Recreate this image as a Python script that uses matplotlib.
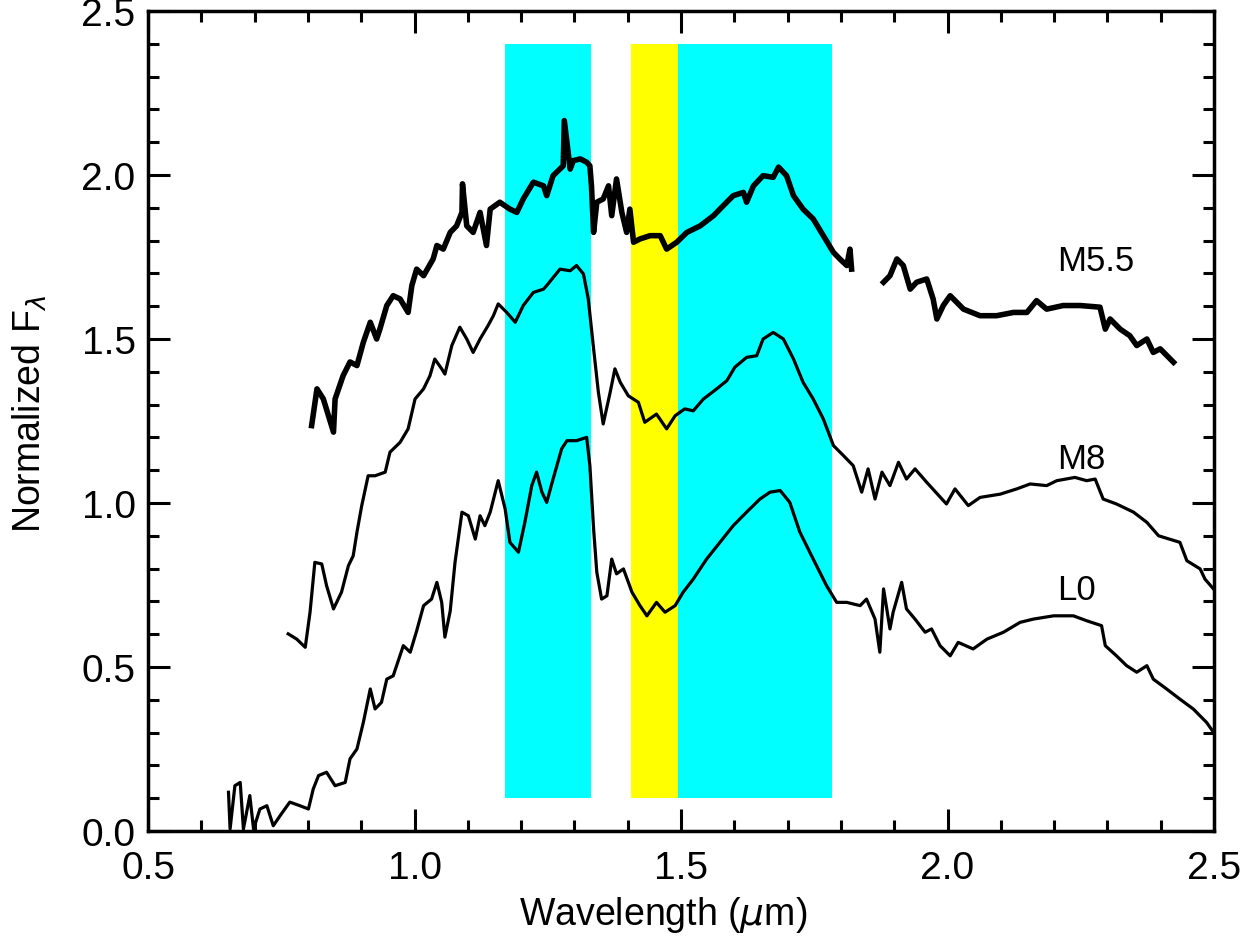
"""Normalized near-IR spectra (M5.5, M8, L0) with the filter bands shaded."""

import numpy as np
import matplotlib
matplotlib.use("Agg")
import matplotlib.pyplot as plt
from matplotlib.ticker import MultipleLocator, FormatStrFormatter

plt.rcParams["font.family"] = ["Liberation Sans", "DejaVu Sans"]
plt.rcParams["mathtext.fontset"] = "dejavusans"

# --- data (wavelength in micron, normalized flux) ---
m55_wave = [0.807, 0.817, 0.829, 0.848, 0.851, 0.866, 0.879, 0.892, 0.904, 0.917,
            0.929, 0.935, 0.948, 0.960, 0.973, 0.988, 0.995, 1.004, 1.017, 1.035,
            1.042, 1.054, 1.067, 1.079, 1.089, 1.090, 1.098, 1.110, 1.123, 1.135,
            1.142, 1.160, 1.179, 1.192, 1.204, 1.223, 1.242, 1.248, 1.260, 1.279,
            1.281, 1.292, 1.298, 1.311, 1.323, 1.329, 1.332, 1.336, 1.342, 1.354,
            1.364, 1.370, 1.379, 1.389, 1.398, 1.404, 1.411, 1.423, 1.442, 1.461,
            1.473, 1.492, 1.511, 1.536, 1.561, 1.579, 1.598, 1.617, 1.623, 1.636,
            1.654, 1.673, 1.683, 1.698, 1.711, 1.729, 1.748, 1.767, 1.786, 1.798,
            1.811, 1.817, 1.820,
            np.nan,
            1.880, 1.892, 1.905, 1.917, 1.930, 1.942, 1.961, 1.973, 1.980, 1.992,
            2.005, 2.030, 2.061, 2.092, 2.124, 2.149, 2.167, 2.186, 2.217, 2.249,
            2.286, 2.296, 2.305, 2.324, 2.342, 2.355, 2.374, 2.386, 2.399, 2.424]
m55_flux = [1.236, 1.348, 1.317, 1.216, 1.317, 1.388, 1.430, 1.419, 1.490, 1.551,
            1.500, 1.530, 1.602, 1.632, 1.622, 1.581, 1.663, 1.713, 1.693, 1.744,
            1.785, 1.774, 1.825, 1.845, 1.886, 1.973, 1.845, 1.825, 1.886, 1.785,
            1.896, 1.917, 1.896, 1.886, 1.927, 1.978, 1.967, 1.937, 1.998, 2.028,
            2.166, 2.018, 2.044, 2.049, 2.039, 2.028, 1.967, 1.825, 1.917, 1.927,
            1.967, 1.876, 1.988, 1.886, 1.825, 1.896, 1.795, 1.805, 1.815, 1.815,
            1.774, 1.795, 1.825, 1.845, 1.876, 1.906, 1.937, 1.947, 1.917, 1.967,
            1.998, 1.993, 2.024, 1.998, 1.937, 1.896, 1.866, 1.815, 1.764, 1.744,
            1.724, 1.774, 1.713,
            np.nan,
            1.673, 1.693, 1.744, 1.724, 1.652, 1.673, 1.683, 1.622, 1.561, 1.602,
            1.632, 1.591, 1.571, 1.571, 1.581, 1.581, 1.617, 1.591, 1.602, 1.602,
            1.597, 1.530, 1.561, 1.530, 1.510, 1.480, 1.500, 1.459, 1.470, 1.429]

m8_wave = [0.763, 0.779, 0.795, 0.804, 0.813, 0.826, 0.835, 0.848, 0.863, 0.876,
           0.885, 0.892, 0.901, 0.913, 0.926, 0.945, 0.954, 0.973, 0.988, 1.001,
           1.017, 1.029, 1.038, 1.051, 1.057, 1.070, 1.085, 1.098, 1.110, 1.123,
           1.138, 1.148, 1.157, 1.173, 1.189, 1.204, 1.223, 1.242, 1.248, 1.273,
           1.292, 1.304, 1.317, 1.326, 1.336, 1.345, 1.354, 1.367, 1.376, 1.386,
           1.401, 1.420, 1.432, 1.454, 1.473, 1.489, 1.507, 1.523, 1.542, 1.567,
           1.586, 1.601, 1.623, 1.642, 1.654, 1.673, 1.692, 1.711, 1.729, 1.748,
           1.767, 1.786, 1.805, 1.823, 1.839, 1.851, 1.864, 1.877, 1.892, 1.908,
           1.923, 1.939, 1.961, 1.998, 2.014, 2.039, 2.061, 2.099, 2.130, 2.155,
           2.186, 2.205, 2.239, 2.261, 2.277, 2.292, 2.317, 2.349, 2.374, 2.396,
           2.436, 2.449, 2.474, 2.483, 2.499]
m8_flux = [0.601, 0.585, 0.560, 0.667, 0.819, 0.814, 0.748, 0.677, 0.728, 0.809,
           0.839, 0.911, 0.992, 1.083, 1.083, 1.094, 1.155, 1.185, 1.226, 1.317,
           1.348, 1.388, 1.439, 1.409, 1.393, 1.480, 1.536, 1.500, 1.459, 1.500,
           1.541, 1.571, 1.607, 1.581, 1.551, 1.602, 1.642, 1.652, 1.663, 1.713,
           1.708, 1.724, 1.698, 1.622, 1.470, 1.337, 1.241, 1.337, 1.409, 1.368,
           1.327, 1.307, 1.246, 1.271, 1.226, 1.266, 1.287, 1.281, 1.317, 1.348,
           1.373, 1.414, 1.444, 1.449, 1.500, 1.520, 1.500, 1.439, 1.368, 1.317,
           1.256, 1.175, 1.144, 1.114, 1.033, 1.104, 1.012, 1.094, 1.053, 1.124,
           1.073, 1.104, 1.063, 0.997, 1.043, 0.992, 1.017, 1.027, 1.043, 1.058,
           1.053, 1.068, 1.078, 1.068, 1.073, 1.012, 0.997, 0.972, 0.941, 0.900,
           0.880, 0.824, 0.799, 0.768, 0.738]

l0_wave = [0.651, 0.654, 0.663, 0.673, 0.679, 0.691, 0.698, 0.710, 0.723, 0.735,
           0.748, 0.766, 0.785, 0.801, 0.810, 0.820, 0.835, 0.851, 0.870, 0.879,
           0.892, 0.904, 0.917, 0.926, 0.938, 0.948, 0.960, 0.979, 0.992, 1.004,
           1.017, 1.032, 1.042, 1.051, 1.057, 1.067, 1.076, 1.089, 1.101, 1.114,
           1.123, 1.132, 1.142, 1.157, 1.170, 1.179, 1.195, 1.207, 1.220, 1.229,
           1.239, 1.248, 1.260, 1.276, 1.286, 1.304, 1.323, 1.329, 1.336, 1.342,
           1.351, 1.361, 1.370, 1.379, 1.392, 1.408, 1.423, 1.436, 1.454, 1.470,
           1.489, 1.504, 1.523, 1.548, 1.573, 1.598, 1.623, 1.648, 1.667, 1.686,
           1.704, 1.723, 1.748, 1.773, 1.792, 1.811, 1.836, 1.848, 1.864, 1.873,
           1.880, 1.892, 1.898, 1.914, 1.923, 1.939, 1.958, 1.970, 1.986, 2.005,
           2.020, 2.048, 2.074, 2.105, 2.136, 2.161, 2.199, 2.236, 2.261, 2.289,
           2.296, 2.317, 2.336, 2.355, 2.374, 2.386, 2.411, 2.436, 2.461, 2.486,
           2.499]
l0_flux = [0.118, 0.006, 0.138, 0.148, 0.006, 0.108, 0.006, 0.067, 0.077, 0.016,
           0.047, 0.088, 0.077, 0.067, 0.128, 0.169, 0.179, 0.138, 0.148, 0.220,
           0.250, 0.331, 0.433, 0.372, 0.392, 0.463, 0.473, 0.565, 0.545, 0.610,
           0.687, 0.707, 0.758, 0.697, 0.591, 0.671, 0.819, 0.972, 0.961, 0.890,
           0.961, 0.931, 0.972, 1.068, 0.982, 0.880, 0.850, 0.941, 1.053, 1.094,
           1.033, 1.002, 1.073, 1.165, 1.190, 1.190, 1.200, 1.114, 0.921, 0.789,
           0.707, 0.717, 0.829, 0.784, 0.799, 0.728, 0.687, 0.656, 0.697, 0.667,
           0.687, 0.728, 0.768, 0.829, 0.880, 0.931, 0.972, 1.012, 1.033, 1.038,
           1.002, 0.911, 0.829, 0.748, 0.697, 0.697, 0.687, 0.707, 0.646, 0.545,
           0.738, 0.616, 0.667, 0.758, 0.677, 0.646, 0.606, 0.616, 0.565, 0.534,
           0.575, 0.555, 0.585, 0.606, 0.636, 0.646, 0.656, 0.656, 0.641, 0.626,
           0.565, 0.534, 0.504, 0.484, 0.504, 0.463, 0.433, 0.402, 0.372, 0.331,
           0.301]

# shaded bands: (start, end, colour)
band_edges = [(1.170, 1.332), (1.407, 1.495), (1.495, 1.783)]
band_colors = ["#00FFFF", "#FFFF00", "#00FFFF"]
band_low, band_high = 0.10, 2.40

labels = ["M5.5", "M8", "L0"]
label_x = [2.205, 2.205, 2.205]
label_y = [1.738, 1.137, 0.735]

fig = plt.figure(figsize=(12.49, 9.45), dpi=100)
ax = fig.add_axes([0.1185, 0.1196, 0.8535, 0.8677])

for (x0, x1), col in zip(band_edges, band_colors):
    ax.fill_between([x0, x1], band_low, band_high, color=col, lw=0, zorder=1)

ax.plot(m55_wave, m55_flux, color="black", lw=4.0, zorder=3)
ax.plot(m8_wave, m8_flux, color="black", lw=2.3, zorder=3)
ax.plot(l0_wave, l0_flux, color="black", lw=2.3, zorder=3)

for txt, x, y in zip(labels, label_x, label_y):
    ax.text(x, y, txt, fontsize=25, va="center", ha="left", zorder=4)

ax.set_xlim(0.5, 2.5)
ax.set_ylim(0.0, 2.5)
ax.xaxis.set_major_locator(MultipleLocator(0.5))
ax.xaxis.set_minor_locator(MultipleLocator(0.1))
ax.yaxis.set_major_locator(MultipleLocator(0.5))
ax.yaxis.set_minor_locator(MultipleLocator(0.1))
ax.xaxis.set_major_formatter(FormatStrFormatter("%.1f"))
ax.yaxis.set_major_formatter(FormatStrFormatter("%.1f"))

ax.tick_params(which="both", direction="in", top=True, right=True,
               width=2.2, labelsize=28, colors="black")
ax.tick_params(which="major", length=16)
ax.tick_params(which="minor", length=8)
ax.tick_params(axis="x", pad=14)
ax.tick_params(axis="y", pad=9)
for sp in ax.spines.values():
    sp.set_linewidth(2.5)

ax.set_xlabel(r"Wavelength ($\mu$m)", fontsize=27)
ax.xaxis.set_label_coords(0.483, -0.077)
ax.set_ylabel(r"Normalized F$_\lambda$", fontsize=27)
ax.yaxis.set_label_coords(-0.093, 0.51)

fig.savefig("out.png", dpi=100)
